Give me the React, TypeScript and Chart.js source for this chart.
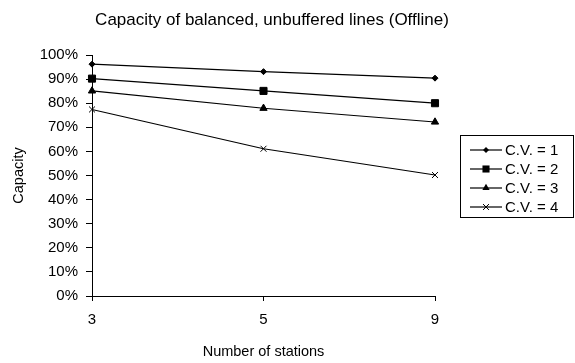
import React, { useEffect, useRef } from "react";
import { Chart, registerables } from "chart.js";

Chart.register(...registerables);

const titleText = "Capacity of balanced, unbuffered lines (Offline)";
const xTitle = "Number of stations";
const yTitle = "Capacity";
const stations = ["3", "5", "9"];
const seriesNames = ["C.V. = 1", "C.V. = 2", "C.V. = 3", "C.V. = 4"];
const cv1 = [96.2, 93.1, 90.4];
const cv2 = [90.2, 85.1, 80.0];
const cv3 = [85.1, 77.9, 72.2];
const cv4 = [77.4, 61.1, 50.2];
const pointStyles = ["rectRot", "rect", "triangle", "crossRot"];
const pointRadii = [3, 5, 4.2, 4.2];

const FONT = "'Liberation Sans', Arial, sans-serif";

function drawPt(ctx: any, style: string, r: number, x: number, y: number) {
  ctx.save();
  ctx.fillStyle = "#000";
  ctx.strokeStyle = "#000";
  ctx.lineWidth = 1;
  ctx.beginPath();
  if (style === "rectRot") {
    ctx.moveTo(x, y - r);
    ctx.lineTo(x + r, y);
    ctx.lineTo(x, y + r);
    ctx.lineTo(x - r, y);
    ctx.closePath();
    ctx.fill();
  } else if (style === "rect") {
    const s = Math.SQRT1_2 * r;
    ctx.rect(x - s, y - s, 2 * s, 2 * s);
    ctx.fill();
  } else if (style === "triangle") {
    ctx.moveTo(x - r * 0.866, y + r * 0.5);
    ctx.lineTo(x, y - r);
    ctx.lineTo(x + r * 0.866, y + r * 0.5);
    ctx.closePath();
    ctx.fill();
  } else {
    const o = r * Math.SQRT1_2;
    ctx.moveTo(x - o, y - o);
    ctx.lineTo(x + o, y + o);
    ctx.moveTo(x + o, y - o);
    ctx.lineTo(x - o, y + o);
    ctx.stroke();
  }
  ctx.restore();
}

const customPlugin = {
  id: "customTitleLegend",
  afterDraw(chart: any) {
    const ctx = chart.ctx;
    ctx.save();
    ctx.fillStyle = "#000";
    ctx.font = `17px ${FONT}`;
    ctx.textAlign = "center";
    ctx.textBaseline = "middle";
    ctx.fillText(titleText, 272, 20);
    const bx = 460.5, by = 135.5, bw = 113, bh = 82;
    ctx.strokeStyle = "#000";
    ctx.lineWidth = 1;
    ctx.strokeRect(bx, by, bw, bh);
    ctx.font = `15px ${FONT}`;
    ctx.textAlign = "left";
    chart.data.datasets.forEach((ds: any, i: number) => {
      const y = 150 + i * 19;
      ctx.beginPath();
      ctx.moveTo(470, y);
      ctx.lineTo(502, y);
      ctx.strokeStyle = "#000";
      ctx.lineWidth = 1.2;
      ctx.stroke();
      drawPt(ctx, ds.pointStyle, ds.pointRadius, 486, y);
      ctx.fillStyle = "#000";
      ctx.fillText(ds.label, 505, y + 1);
    });
    ctx.restore();
  },
};

export default function App() {
  const ref = useRef<HTMLCanvasElement>(null);
  useEffect(() => {
    if (!ref.current) return;
    const values = [cv1, cv2, cv3, cv4];
    const chart = new Chart(ref.current, {
      type: "line",
      data: {
        labels: stations,
        datasets: values.map((v, i) => ({
          label: seriesNames[i],
          data: v,
          borderColor: "#000",
          backgroundColor: "#000",
          borderWidth: 1.2,
          pointStyle: pointStyles[i] as any,
          pointRadius: pointRadii[i],
          pointBorderWidth: 1,
          pointBorderColor: "#000",
          pointBackgroundColor: "#000",
          fill: false,
          tension: 0,
        })),
      },
      options: {
        responsive: false,
        animation: false,
        layout: { padding: { top: 55, right: 140, bottom: 0, left: 0 } },
        plugins: {
          legend: { display: false },
          title: { display: false },
          tooltip: { enabled: false },
        },
        scales: {
          x: {
            offset: false,
            afterFit: (s: any) => {
              s.height = 67;
            },
            grid: {
              display: true,
              drawOnChartArea: false,
              drawTicks: true,
              tickLength: 5,
              color: "#000",
            },
            border: { display: true, color: "#000", width: 1 },
            ticks: {
              color: "#000",
              padding: 10,
              font: { family: FONT, size: 15 },
              maxRotation: 0,
            },
            title: {
              display: true,
              text: xTitle,
              color: "#000",
              font: { family: FONT, size: 14.5 },
              padding: { top: 0, bottom: 2 },
            },
          },
          y: {
            min: 0,
            max: 100,
            afterFit: (s: any) => {
              s.width = 92;
            },
            grid: {
              display: true,
              drawOnChartArea: false,
              drawTicks: true,
              tickLength: 6,
              color: "#000",
            },
            border: { display: true, color: "#000", width: 1 },
            ticks: {
              stepSize: 10,
              color: "#000",
              padding: 8,
              font: { family: FONT, size: 15 },
              callback: (v: any) => v + "%",
            },
            title: {
              display: true,
              text: yTitle,
              color: "#000",
              font: { family: FONT, size: 14.5 },
              padding: { top: 10, bottom: 0 },
            },
          },
        },
      },
      plugins: [customPlugin],
    });
    return () => chart.destroy();
  }, []);
  return (
    <div style={{ position: "fixed", left: 0, top: 0, width: 575, height: 363, background: "#fff" }}>
      <canvas ref={ref} width={575} height={363} style={{ width: 575, height: 363 }} />
    </div>
  );
}
